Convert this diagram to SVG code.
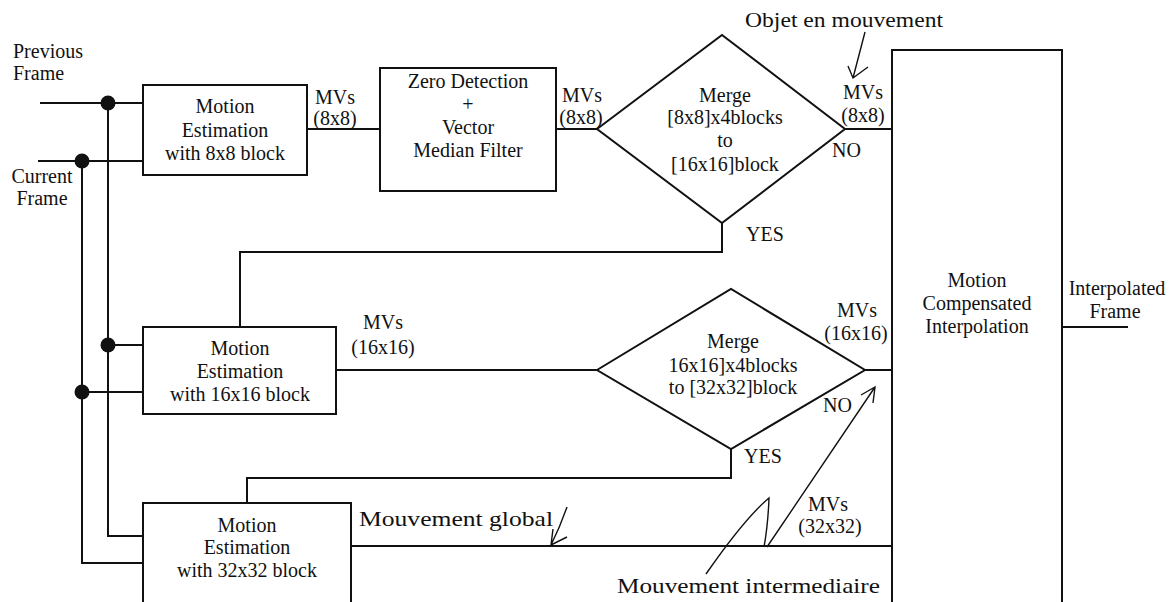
<svg xmlns="http://www.w3.org/2000/svg" width="1172" height="602" viewBox="0 0 1172 602">
<style>
text{font-family:"Liberation Serif","Times New Roman",serif;font-size:20px;fill:#111}
.m{text-anchor:middle}
.ann{font-size:21px}
.box{fill:none;stroke:#111;stroke-width:2}
.ln{fill:none;stroke:#111;stroke-width:2}
.thin{fill:none;stroke:#111;stroke-width:1.4}
.dot{fill:#111}
</style>
<rect width="1172" height="602" fill="#fff"/>

<g id="connectors">
  <!-- inputs -->
  <path class="ln" d="M40,103 H143"/>
  <path class="ln" d="M38,161 H143"/>
  <path class="ln" d="M108,103 V536 H143"/>
  <path class="ln" d="M82,161 V563 H143"/>
  <path class="ln" d="M108,345 H143"/>
  <path class="ln" d="M82,392 H143"/>
  <circle class="dot" cx="108" cy="103" r="7.5"/>
  <circle class="dot" cx="82" cy="161" r="7.5"/>
  <circle class="dot" cx="108" cy="345" r="7.5"/>
  <circle class="dot" cx="82" cy="392" r="7.5"/>
  <!-- 8x8 path -->
  <path class="ln" d="M307,129 H380"/>
  <path class="ln" d="M556,129 H597"/>
  <path class="ln" d="M845,129 H892"/>
  <!-- YES 1 -->
  <path class="ln" d="M722,223 V252 H240 V327"/>
  <!-- 16x16 path -->
  <path class="ln" d="M336,370 H597"/>
  <path class="ln" d="M865,370 H892"/>
  <!-- YES 2 -->
  <path class="ln" d="M731,449 V478 H247 V503"/>
  <!-- 32x32 path -->
  <path class="ln" d="M351,546 H892"/>
  <!-- output -->
  <path class="ln" d="M1062,327 H1128"/>
</g>

<g id="input-labels">
  <text x="13" y="58">Previous</text>
  <text x="13" y="80">Frame</text>
  <text class="m" x="42" y="183">Current</text>
  <text class="m" x="42" y="205">Frame</text>
</g>

<g id="me8">
  <rect class="box" x="143" y="85" width="164" height="90"/>
  <text class="m" x="225" y="113">Motion</text>
  <text class="m" x="225" y="137">Estimation</text>
  <text class="m" x="225" y="160">with 8x8 block</text>
</g>

<g id="zd">
  <rect class="box" x="380" y="68" width="176" height="123"/>
  <text class="m" x="468" y="88">Zero Detection</text>
  <text class="m" x="468" y="111">+</text>
  <text class="m" x="468" y="134">Vector</text>
  <text class="m" x="468" y="157">Median Filter</text>
</g>

<g id="merge1">
  <polygon class="box" points="597,129 722,35 845,129 722,223"/>
  <text class="m" x="725" y="102">Merge</text>
  <text class="m" x="725" y="124">[8x8]x4blocks</text>
  <text class="m" x="725" y="147">to</text>
  <text class="m" x="725" y="171">[16x16]block</text>
</g>

<g id="me16">
  <rect class="box" x="143" y="327" width="193" height="87"/>
  <text class="m" x="240" y="355">Motion</text>
  <text class="m" x="240" y="378">Estimation</text>
  <text class="m" x="240" y="401">with 16x16 block</text>
</g>

<g id="merge2">
  <polygon class="box" points="597,370 731,289 865,370 731,449"/>
  <text class="m" x="733" y="348">Merge</text>
  <text class="m" x="733" y="372">16x16]x4blocks</text>
  <text class="m" x="733" y="394">to [32x32]block</text>
</g>

<g id="me32">
  <rect class="box" x="143" y="503" width="208" height="130"/>
  <text class="m" x="247" y="532">Motion</text>
  <text class="m" x="247" y="554">Estimation</text>
  <text class="m" x="247" y="577">with 32x32 block</text>
</g>

<g id="mci">
  <rect class="box" x="892" y="50" width="170" height="580"/>
  <text class="m" x="977" y="287">Motion</text>
  <text class="m" x="977" y="310">Compensated</text>
  <text class="m" x="977" y="333">Interpolation</text>
</g>

<g id="edge-labels">
  <text class="m" x="335" y="104">MVs</text>
  <text class="m" x="335" y="125">(8x8)</text>
  <text class="m" x="582" y="102">MVs</text>
  <text class="m" x="581" y="124">(8x8)</text>
  <text class="m" x="863" y="99">MVs</text>
  <text class="m" x="863" y="122">(8x8)</text>
  <text x="832" y="157">NO</text>
  <text x="746" y="241">YES</text>
  <text class="m" x="383" y="329">MVs</text>
  <text class="m" x="383" y="354">(16x16)</text>
  <text class="m" x="857" y="317">MVs</text>
  <text class="m" x="856" y="340">(16x16)</text>
  <text x="823" y="412">NO</text>
  <text x="744" y="463">YES</text>
  <text class="m" x="828" y="511">MVs</text>
  <text class="m" x="830" y="533">(32x32)</text>
  <text class="m" x="1117" y="295">Interpolated</text>
  <text class="m" x="1115" y="318">Frame</text>
</g>

<g id="annotations">
  <text class="ann" x="745" y="27" textLength="198" lengthAdjust="spacingAndGlyphs">Objet en mouvement</text>
  <path class="thin" d="M865,32 L853,78 M848,66 L853,78 L868,67"/>
  <text class="ann" x="359" y="526" textLength="194" lengthAdjust="spacingAndGlyphs">Mouvement global</text>
  <path class="thin" d="M567,507 Q560,527 551,545 M553,529 L551,545 L567,537"/>
  <text class="ann" x="617" y="593" textLength="263" lengthAdjust="spacingAndGlyphs">Mouvement intermediaire</text>
  <path class="thin" d="M706,574 Q745,518 769,498 Q768,525 764,547 M767,547 L875,387 M861,395 L875,387 L873,403"/>
</g>
</svg>
